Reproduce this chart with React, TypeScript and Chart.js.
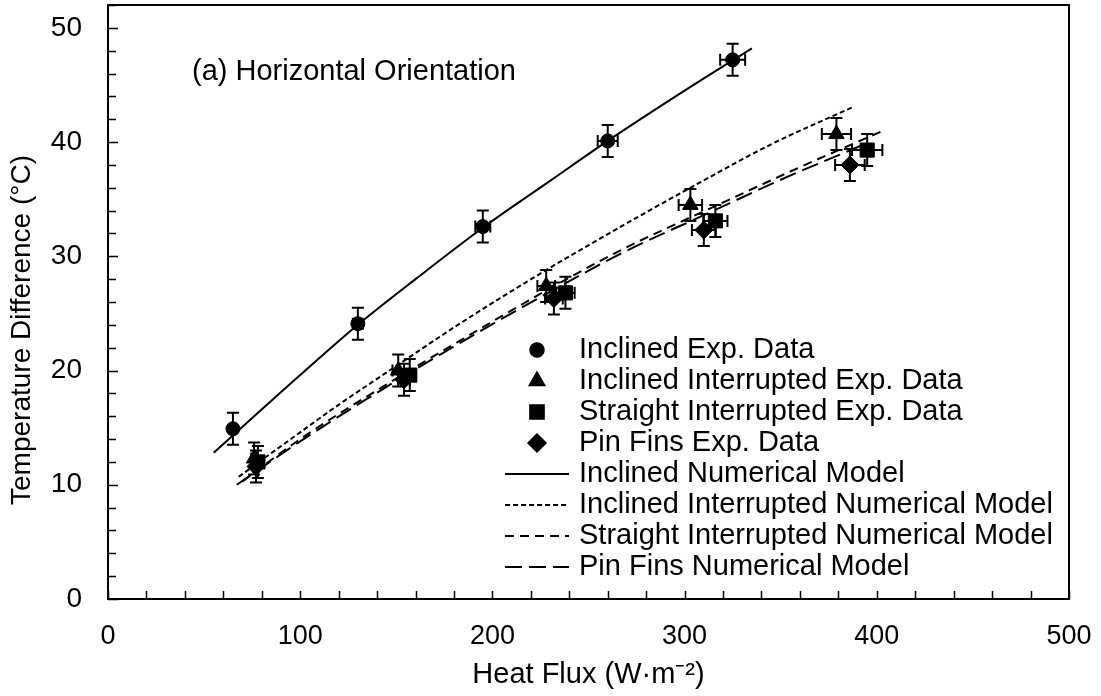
import { useEffect, useRef } from "react";
import { Chart, registerables } from "chart.js";
import { drawPoint } from "chart.js/helpers";

Chart.register(...registerables);

// ---------- data ----------
const inclinedX = [65, 130, 195, 260, 325];
const inclinedY = [14.9, 24.1, 32.6, 40.1, 47.2];
const inclinedXErr = [1.3, 2.6, 3.9, 5.2, 6.5];
const inclinedYErr = [1.4, 1.4, 1.4, 1.4, 1.4];

const inclinedIntX = [76, 151, 228, 303, 379];
const inclinedIntY = [12.3, 20.0, 27.4, 34.5, 40.7];
const inclinedIntXErr = [1.5, 3.0, 4.6, 6.1, 7.6];
const inclinedIntYErr = [1.4, 1.4, 1.4, 1.4, 1.4];

const straightIntX = [78, 157, 238, 316, 395];
const straightIntY = [12.0, 19.6, 26.8, 33.1, 39.3];
const straightIntXErr = [1.6, 3.1, 4.8, 6.3, 7.9];
const straightIntYErr = [1.4, 1.4, 1.4, 1.4, 1.4];

const pinX = [77, 154, 232, 310, 386];
const pinY = [11.6, 19.2, 26.3, 32.3, 38.0];
const pinXErr = [1.5, 3.1, 4.6, 6.2, 7.7];
const pinYErr = [1.4, 1.4, 1.4, 1.4, 1.4];

const inclinedModelX = [55, 100, 130, 160, 195, 230, 260, 300, 335];
const inclinedModelY = [12.8, 19.6, 24.0, 28.0, 32.5, 36.6, 40.1, 44.5, 48.2];

const inclinedIntModelX = [68, 91, 120, 150, 183, 230, 270, 303, 345, 388];
const inclinedIntModelY = [10.7, 13.5, 17.0, 20.4, 24.1, 29.0, 32.9, 36.0, 39.8, 43.1];

const straightIntModelX = [70, 100, 150, 183, 230, 270, 316, 360, 402];
const straightIntModelY = [10.3, 14.0, 19.3, 22.6, 27.2, 30.8, 34.4, 37.8, 40.9];

const pinModelX = [67, 100, 150, 183, 230, 270, 310, 350, 392];
const pinModelY = [10.0, 13.8, 19.1, 22.4, 26.9, 30.5, 33.6, 36.7, 39.7];

const xTickLabels = [0, 100, 200, 300, 400, 500];
const yTickLabels = [0, 10, 20, 30, 40, 50];
const xMinorTicks = Array.from({ length: 26 }, (_, i) => i * 20);
const yMinorTicks = Array.from({ length: 27 }, (_, i) => i * 2);

const seriesLabels = [
  "Inclined Exp. Data",
  "Inclined Interrupted Exp. Data",
  "Straight Interrupted Exp. Data",
  "Pin Fins Exp. Data",
  "Inclined Numerical Model",
  "Inclined Interrupted Numerical Model",
  "Straight Interrupted Numerical Model",
  "Pin Fins Numerical Model",
];

const xTitle = "Heat Flux (W·m⁻²)";
const yTitle = "Temperature Difference (°C)";
const panelNote = "(a) Horizontal Orientation";

// ---------- helpers ----------
const FONT = '"Liberation Sans", Arial, sans-serif';
const toPts = (xs: number[], ys: number[]) => xs.map((x, i) => ({ x, y: ys[i] }));

const errors: Record<number, { xe: number[]; ye: number[] }> = {
  0: { xe: inclinedXErr, ye: inclinedYErr },
  1: { xe: inclinedIntXErr, ye: inclinedIntYErr },
  2: { xe: straightIntXErr, ye: straightIntYErr },
  3: { xe: pinXErr, ye: pinYErr },
};

const errorBarPlugin = {
  id: "errorBars",
  beforeDatasetsDraw(chart: any) {
    const { ctx, scales } = chart;
    const xs = scales.x;
    const ys = scales.y;
    ctx.save();
    ctx.strokeStyle = "#000";
    ctx.lineWidth = 2;
    Object.keys(errors).forEach((k) => {
      const i = Number(k);
      const ds = chart.data.datasets[i];
      const { xe, ye } = errors[i];
      ds.data.forEach((p: any, j: number) => {
        const cx = xs.getPixelForValue(p.x);
        const cy = ys.getPixelForValue(p.y);
        const y1 = ys.getPixelForValue(p.y + ye[j]);
        const y0 = ys.getPixelForValue(p.y - ye[j]);
        const x0 = xs.getPixelForValue(p.x - xe[j]);
        const x1 = xs.getPixelForValue(p.x + xe[j]);
        const cap = 6;
        ctx.beginPath();
        ctx.moveTo(cx, y0);
        ctx.lineTo(cx, y1);
        ctx.moveTo(cx - cap, y0);
        ctx.lineTo(cx + cap, y0);
        ctx.moveTo(cx - cap, y1);
        ctx.lineTo(cx + cap, y1);
        ctx.moveTo(x0, cy);
        ctx.lineTo(x1, cy);
        ctx.moveTo(x0, cy - cap);
        ctx.lineTo(x0, cy + cap);
        ctx.moveTo(x1, cy - cap);
        ctx.lineTo(x1, cy + cap);
        ctx.stroke();
      });
    });
    ctx.restore();
  },
};

const framePlugin = {
  id: "frameTicks",
  afterDraw(chart: any) {
    const { ctx, chartArea: a, scales } = chart;
    ctx.save();
    ctx.strokeStyle = "#000";
    ctx.lineWidth = 2;
    ctx.beginPath();
    ctx.moveTo(a.left, a.top);
    ctx.lineTo(a.right, a.top);
    ctx.lineTo(a.right, a.bottom);
    ctx.stroke();
    ctx.lineWidth = 1.5;
    ctx.beginPath();
    xMinorTicks.forEach((v) => {
      const px = Math.round(scales.x.getPixelForValue(v)) + 0.5;
      ctx.moveTo(px, a.bottom);
      ctx.lineTo(px, a.bottom - 8);
    });
    yMinorTicks.forEach((v) => {
      const py = Math.round(scales.y.getPixelForValue(v)) + 0.5;
      const len = v % 10 === 0 ? 10 : 8;
      ctx.moveTo(a.left, py);
      ctx.lineTo(a.left + len, py);
    });
    ctx.stroke();

    // panel note
    ctx.fillStyle = "#000";
    ctx.font = `29px ${FONT}`;
    ctx.textAlign = "left";
    ctx.textBaseline = "middle";
    ctx.fillText(panelNote, 192, 72);

    // y title
    ctx.save();
    ctx.translate(22, 330);
    ctx.rotate(-Math.PI / 2);
    ctx.font = `28px ${FONT}`;
    ctx.textAlign = "center";
    ctx.textBaseline = "middle";
    ctx.fillText(yTitle, 0, 0);
    ctx.restore();

    // legend
    ctx.font = `29px ${FONT}`;
    ctx.textAlign = "left";
    ctx.textBaseline = "middle";
    chart.data.datasets.forEach((ds: any, i: number) => {
      const y = 350 + i * 31;
      if (ds.showLine) {
        ctx.save();
        ctx.strokeStyle = "#000";
        ctx.lineWidth = 2;
        ctx.setLineDash(ds.borderDash || []);
        ctx.beginPath();
        ctx.moveTo(505, y);
        ctx.lineTo(569, y);
        ctx.stroke();
        ctx.restore();
      } else {
        ctx.save();
        ctx.fillStyle = "#000";
        ctx.strokeStyle = "#000";
        drawPoint(ctx, { pointStyle: ds.pointStyle, radius: ds.pointRadius, rotation: 0, borderWidth: 1 }, 537, y);
        ctx.restore();
      }
      ctx.fillStyle = "#000";
      ctx.fillText(ds.label, 579, y);
    });
    ctx.restore();
  },
};

function expSet(label: string, xs: number[], ys: number[], style: string, r: number, order: number) {
  return {
    label,
    order,
    data: toPts(xs, ys),
    showLine: false,
    pointStyle: style,
    pointRadius: r,
    pointHoverRadius: r,
    backgroundColor: "#000",
    borderColor: "#000",
    borderWidth: 1,
  };
}

function modelSet(label: string, xs: number[], ys: number[], dash: number[], order: number) {
  return {
    label,
    order,
    data: toPts(xs, ys),
    showLine: true,
    pointRadius: 0,
    borderColor: "#000",
    backgroundColor: "#000",
    borderWidth: 2,
    borderDash: dash,
    tension: 0.4,
    cubicInterpolationMode: "monotone",
  };
}

const zeroPad = (s: any) => {
  s.paddingTop = 0;
  s.paddingBottom = 0;
  s.paddingLeft = 0;
  s.paddingRight = 0;
};

export default function App() {
  const ref = useRef<HTMLCanvasElement>(null);
  useEffect(() => {
    document.body.style.margin = "0";
    const chart = new Chart(ref.current!, {
      type: "scatter",
      data: {
        datasets: [
          expSet(seriesLabels[0], inclinedX, inclinedY, "circle", 7, 8),
          expSet(seriesLabels[1], inclinedIntX, inclinedIntY, "triangle", 9, 7),
          expSet(seriesLabels[2], straightIntX, straightIntY, "rect", 10, 6),
          expSet(seriesLabels[3], pinX, pinY, "rectRot", 9, 5),
          modelSet(seriesLabels[4], inclinedModelX, inclinedModelY, [], 4),
          modelSet(seriesLabels[5], inclinedIntModelX, inclinedIntModelY, [5, 3], 3),
          modelSet(seriesLabels[6], straightIntModelX, straightIntModelY, [9, 6], 2),
          modelSet(seriesLabels[7], pinModelX, pinModelY, [17, 7], 1),
        ] as any,
      },
      options: {
        responsive: false,
        animation: false,
        events: [],
        layout: { autoPadding: false, padding: { top: 5, right: 32, left: 0, bottom: 0 } },
        plugins: { legend: { display: false }, tooltip: { enabled: false } },
        scales: {
          x: {
            type: "linear",
            min: 0,
            max: 500,
            grid: { display: false, drawTicks: false },
            border: { display: true, color: "#000", width: 2 },
            ticks: { color: "#000", font: { family: FONT, size: 27 }, padding: 21, maxRotation: 0 },
            afterBuildTicks: (s: any) => {
              s.ticks = xTickLabels.map((v) => ({ value: v }));
            },
            afterFit: (s: any) => {
              s.height = 97;
              zeroPad(s);
            },
            title: { display: true, text: xTitle, color: "#000", font: { family: FONT, size: 29 }, padding: { top: 0, bottom: 4 } },
          },
          y: {
            type: "linear",
            min: 0,
            max: 52,
            grid: { display: false, drawTicks: false },
            border: { display: true, color: "#000", width: 2 },
            ticks: { color: "#000", font: { family: FONT, size: 28 }, padding: 26 },
            afterBuildTicks: (s: any) => {
              s.ticks = yTickLabels.map((v) => ({ value: v }));
            },
            afterFit: (s: any) => {
              s.width = 108;
              zeroPad(s);
            },
          },
        },
      },
      plugins: [errorBarPlugin, framePlugin],
    } as any);
    return () => chart.destroy();
  }, []);
  return (
    <canvas
      ref={ref}
      width={1101}
      height={696}
      style={{ display: "block", position: "absolute", left: 0, top: 0 }}
    />
  );
}
